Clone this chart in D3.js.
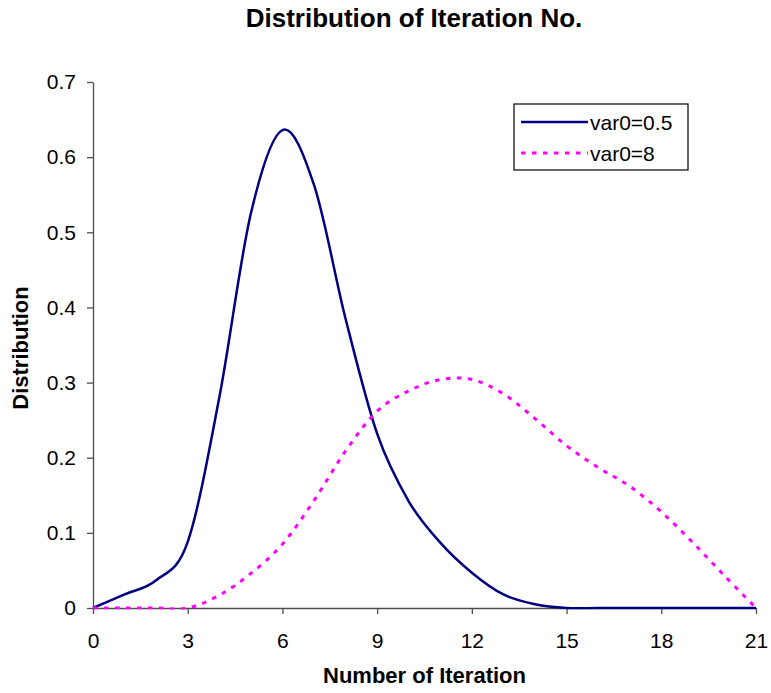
<!DOCTYPE html>
<html>
<head>
<meta charset="utf-8">
<script src="https://cdn.jsdelivr.net/npm/d3@7"></script>
<style>
  body { margin: 0; background: #fff; }
  text { font-family: "Liberation Sans", Arial, sans-serif; fill: #000; }
</style>
</head>
<body>
<svg id="chart" width="771" height="693"></svg>
<script>
// Iteration numbers (x values)
const iterations = d3.range(0, 22);

// Distribution for var0=0.5
const var05 = [0, 0.018, 0.037, 0.088, 0.28, 0.525, 0.636, 0.563, 0.385, 0.232,
  0.142, 0.087, 0.047, 0.018, 0.005, 0, 0, 0, 0, 0, 0, 0];

// Distribution for var0=8
const var8 = [0, 0, 0, 0, 0.017, 0.046, 0.085, 0.143, 0.209, 0.262,
  0.289, 0.304, 0.304, 0.285, 0.252, 0.216, 0.187, 0.162, 0.128, 0.087, 0.043, 0];

const seriesNames = ["var0=0.5", "var0=8"];
const xTicks = [0, 3, 6, 9, 12, 15, 18, 21];
const yTicks = [0, 0.1, 0.2, 0.3, 0.4, 0.5, 0.6, 0.7];

const width = 771;
const height = 693;
const margin = { top: 82, right: 15, bottom: 85, left: 93 };

const svg = d3.select("#chart");

svg.append("rect")
  .attr("width", width)
  .attr("height", height)
  .attr("fill", "#fff");

// Scales
const x = d3.scaleLinear()
  .domain([0, 21])
  .range([margin.left, width - margin.right]);

const y = d3.scaleLinear()
  .domain([0, 0.7])
  .range([height - margin.bottom, margin.top]);

// Series styles
const styles = [
  { color: "#000080", width: 2.5, dash: null },
  { color: "#ff00ff", width: 3, dash: "4.5,6.5" }
];

const series = [var05, var8].map((vals, i) => ({
  name: seriesNames[i],
  points: iterations.map((it, j) => [it, vals[j]]),
  style: styles[i]
}));

// Axes
const yAxis = d3.axisLeft(y)
  .tickValues(yTicks)
  .tickSize(6)
  .tickSizeOuter(0)
  .tickPadding(11)
  .tickFormat(d => d === 0 ? "0" : d3.format(".1f")(d));

const xAxis = d3.axisBottom(x)
  .tickValues(xTicks)
  .tickSize(6)
  .tickSizeOuter(0)
  .tickPadding(19);

const gy = svg.append("g")
  .attr("transform", `translate(${margin.left},0)`)
  .call(yAxis);

const gx = svg.append("g")
  .attr("transform", `translate(0,${height - margin.bottom})`)
  .call(xAxis);

[gx, gy].forEach(g => {
  g.select(".domain").attr("stroke", "#4d4d4d").attr("stroke-width", 1.3);
  g.selectAll(".tick line").attr("stroke", "#4d4d4d").attr("stroke-width", 1.3);
  g.selectAll(".tick text")
    .attr("font-size", 21)
    .attr("font-family", "'Liberation Sans', Arial, sans-serif")
    .attr("fill", "#000");
});

// Keep the smoothed lines from dipping under the x axis
svg.append("clipPath")
  .attr("id", "plotClip")
  .append("rect")
  .attr("x", margin.left - 2)
  .attr("y", 0)
  .attr("width", width - margin.left - margin.right + 4)
  .attr("height", height - margin.bottom + 1.5);

const line = d3.line()
  .x(d => x(d[0]))
  .y(d => y(d[1]))
  .curve(d3.curveCardinal.tension(0));

svg.append("g")
  .attr("clip-path", "url(#plotClip)")
  .selectAll("path")
  .data(series)
  .enter()
  .append("path")
  .attr("d", d => line(d.points))
  .attr("fill", "none")
  .attr("stroke", d => d.style.color)
  .attr("stroke-width", d => d.style.width)
  .attr("stroke-dasharray", d => d.style.dash);

// Title and axis titles
svg.append("text")
  .attr("x", 414)
  .attr("y", 27)
  .attr("text-anchor", "middle")
  .attr("font-size", 26)
  .attr("font-weight", "bold")
  .text("Distribution of Iteration No.");

svg.append("text")
  .attr("x", (x.range()[0] + x.range()[1]) / 2)
  .attr("y", 683)
  .attr("text-anchor", "middle")
  .attr("font-size", 22)
  .attr("font-weight", "bold")
  .text("Number of Iteration");

svg.append("text")
  .attr("transform", `translate(28,${(y.range()[0] + y.range()[1]) / 2 + 3}) rotate(-90)`)
  .attr("text-anchor", "middle")
  .attr("font-size", 22)
  .attr("font-weight", "bold")
  .text("Distribution");

// Legend
const legend = svg.append("g").attr("transform", "translate(514,104)");

legend.append("rect")
  .attr("width", 174)
  .attr("height", 66)
  .attr("fill", "#fff")
  .attr("stroke", "#000")
  .attr("stroke-width", 1.2);

const item = legend.selectAll("g.item")
  .data(series)
  .enter()
  .append("g")
  .attr("class", "item")
  .attr("transform", (d, i) => `translate(0,${18 + i * 31})`);

item.append("line")
  .attr("x1", 7)
  .attr("x2", 74)
  .attr("stroke", d => d.style.color)
  .attr("stroke-width", d => d.style.width)
  .attr("stroke-dasharray", d => d.style.dash);

item.append("text")
  .attr("x", 76)
  .attr("dy", "0.36em")
  .attr("font-size", 21)
  .text(d => d.name);
</script>
</body>
</html>
